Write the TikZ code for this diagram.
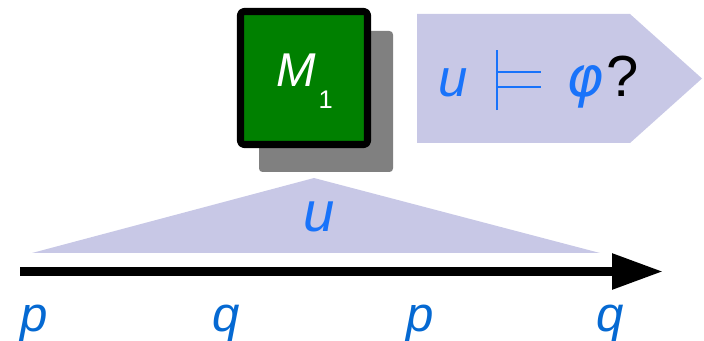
\documentclass[tikz,border=0pt]{standalone}
\usepackage{fontspec}
\usepackage{graphicx}
\setmainfont{Liberation Sans}
\newfontfamily\dejavu{DejaVu Sans}
\usetikzlibrary{arrows.meta,positioning}
\definecolor{lavender}{RGB}{200,200,230}
\definecolor{wordblue}{RGB}{25,115,250}
\definecolor{letterblue}{RGB}{5,105,210}
\definecolor{boxgreen}{RGB}{0,128,0}
\definecolor{shadowgray}{RGB}{128,128,128}
% thin, tall "models" sign built from rules
\newcommand{\satisfies}{\rule[-7.4pt]{1.5pt}{34.1pt}\rlap{\rule[4.95pt]{24.5pt}{1.5pt}}\rule[13.45pt]{24.5pt}{1.5pt}}

\begin{document}
\begin{tikzpicture}[x=0.02cm, y=-0.02cm, line join=round,
  letter/.style={text=letterblue, inner sep=0pt, anchor=base,
    font=\fontsize{28}{30}\selectfont\itshape}]
\useasboundingbox (0,0) rectangle (704,341);
% automaton with its shadow
\fill[shadowgray, rounded corners=2pt] (259,31) rectangle (393,172);
\draw[line width=4pt, fill=boxgreen, rounded corners=2pt] (240.5,11.5) rectangle (367.5,144.5);
\node[text=white, inner sep=0pt, anchor=base west] (mlabel) at (276,87)
  {\fontsize{27}{30}\selectfont\itshape M\kern1.5pt\raisebox{-12pt}{\fontsize{14.5}{16}\selectfont\upshape 1}};
% the question
\fill[lavender] (417,14) -- (630,14) -- (702,78.5) -- (630,143) -- (417,143) -- cycle;
\node[inner sep=0pt, anchor=base west] (query) at (438,97)
  {\fontsize{30}{34}\selectfont\color{wordblue}\itshape u\hspace{16pt}\satisfies\hspace{14pt}{\dejavu\fontsize{32}{34}\selectfont\itshape φ}\kern2pt\color{black}\upshape\fontsize{33}{36}\selectfont ?};
% the word u
\coordinate (apex) at (314,178);
\fill[lavender] (32,253) -- (apex) -- (600,253) -- cycle;
\node[text=wordblue, inner sep=0pt, anchor=base, font=\fontsize{32}{34}\selectfont\itshape] (word) at (319,232) {u};
% time line
\coordinate (start) at (20,271.5);
\coordinate (end) at (663,271.5);
\draw[line width=5.1pt, -{Triangle[length=29pt, width=19.3pt]}] (start) -- (end);
\node[letter] (p1) at (34,332) {p};
\node[letter] (q1) at (226,332) {q};
\node[letter] (p2) at (420,332) {p};
\node[letter] (q2) at (610,332) {q};
\end{tikzpicture}
\end{document}
